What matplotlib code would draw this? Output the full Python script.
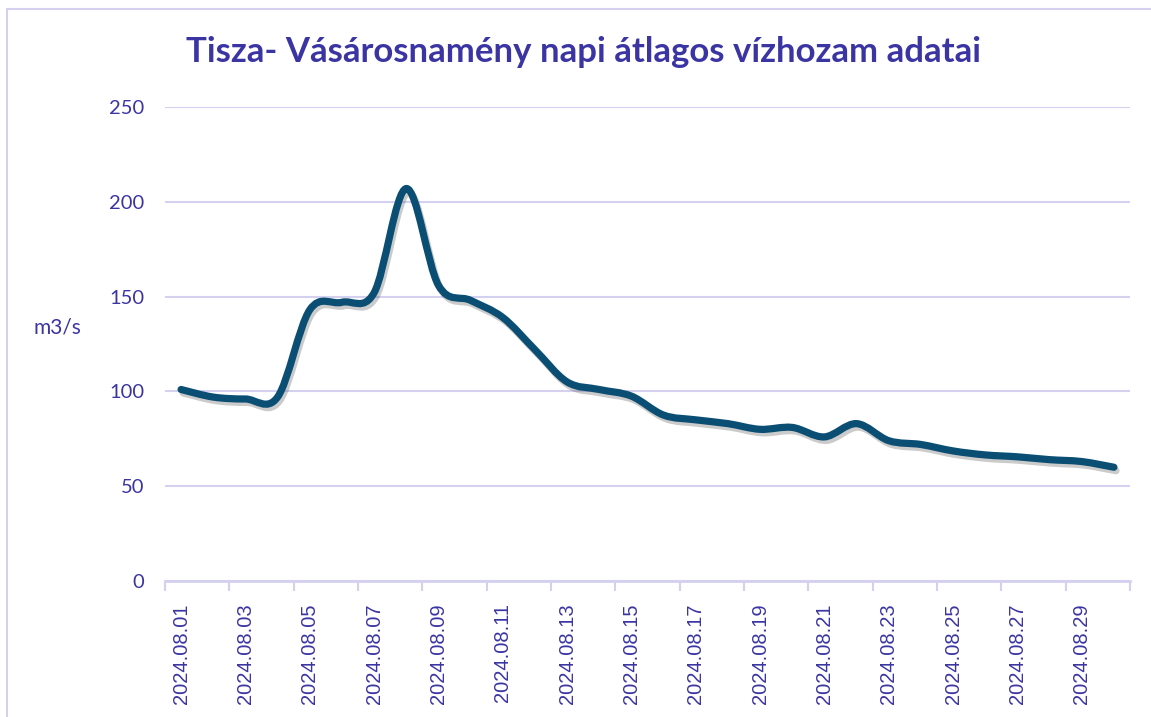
import matplotlib
matplotlib.use("Agg")
import matplotlib.pyplot as plt
import numpy as np
from matplotlib.path import Path
from matplotlib.patches import PathPatch, Rectangle
import matplotlib.patheffects as pe

dates = [f"2024.08.{d:02d}" for d in range(1, 31)]
flow = [101, 97, 96, 97, 143, 147, 152, 207, 156, 148, 139, 122, 105, 101, 97.5,
        87.5, 85, 83, 80, 81, 76, 83, 74, 72, 68.6, 66.5, 65.5, 64, 63, 60]
title = "Tisza- Vásárosnamény napi átlagos vízhozam adatai"
ylabel = "m3/s"
yticks = [0, 50, 100, 150, 200, 250]

TXT = "#3B35A3"
GRID = "#D4D0F0"
LINE = "#0A4E74"

W, H = 1151, 717
fig = plt.figure(figsize=(W / 100, H / 100), dpi=100)
fig.patch.set_facecolor("white")
fig.patches.append(Rectangle((7 / W, -0.05), 1.2, 1 - 9 / H + 0.05, transform=fig.transFigure,
                             fill=False, edgecolor=GRID, linewidth=1.5))

ax = fig.add_axes([165 / W, (H - 581) / H, (1130 - 165) / W, (581 - 107) / H])
ax.set_xlim(-0.5, len(dates) - 0.5)
ax.set_ylim(0, 250)

# smooth curve (Catmull-Rom style as in Excel smoothed lines)
x = np.arange(len(flow), dtype=float)
y = np.asarray(flow, dtype=float)
pts = np.column_stack([x, y])
verts = [pts[0]]
codes = [Path.MOVETO]
n = len(pts)
for i in range(n - 1):
    p0 = pts[i - 1] if i > 0 else pts[i]
    p1 = pts[i]
    p2 = pts[i + 1]
    p3 = pts[i + 2] if i + 2 < n else pts[i + 1]
    c1 = p1 + (p2 - p0) / 6.0
    c2 = p2 - (p3 - p1) / 6.0
    verts += [c1, c2, p2]
    codes += [Path.CURVE4] * 3
path = Path(verts, codes)
patch = PathPatch(path, facecolor="none", edgecolor=LINE, linewidth=5.2, capstyle="round",
                  joinstyle="round", zorder=3)
patch.set_path_effects([pe.SimpleLineShadow(offset=(1.5, -2.5), shadow_color="#555555", alpha=0.3),
                        pe.Normal()])
ax.add_patch(patch)

# y axis
ax.set_yticks(yticks)
ax.set_yticklabels([str(v) for v in yticks], fontsize=14.5, color=TXT, family="Lato")
ax.tick_params(axis="y", length=0, pad=15)
ax.yaxis.grid(True, color=GRID, linewidth=1.5)
ax.set_axisbelow(True)

# x axis: tick marks on category boundaries every 2, labels at centers every 2
ax.set_xticks(np.arange(-0.5, len(dates), 2))
ax.set_xticklabels([])
ax.tick_params(axis="x", which="major", length=7, width=1.5, color=GRID, direction="out")
ax.set_xticks(np.arange(0, len(dates), 2), minor=True)
ax.set_xticklabels(dates[::2], minor=True, rotation=90, fontsize=14.5, color=TXT,
                   family="Liberation Sans")
ax.tick_params(axis="x", which="minor", length=0, pad=16)

for s in ["left", "right", "top"]:
    ax.spines[s].set_visible(False)
ax.spines["bottom"].set_color(GRID)
ax.spines["bottom"].set_linewidth(2)

fig.text(57 / W, 1 - 328 / H, ylabel, fontsize=15, color=TXT, family="Lato",
         ha="center", va="center")
fig.text(584 / W, 1 - 52 / H, title, fontsize=25, color=TXT, family="Lato",
         fontweight="bold", ha="center", va="center")

fig.savefig("out.png", dpi=100, facecolor="white")
